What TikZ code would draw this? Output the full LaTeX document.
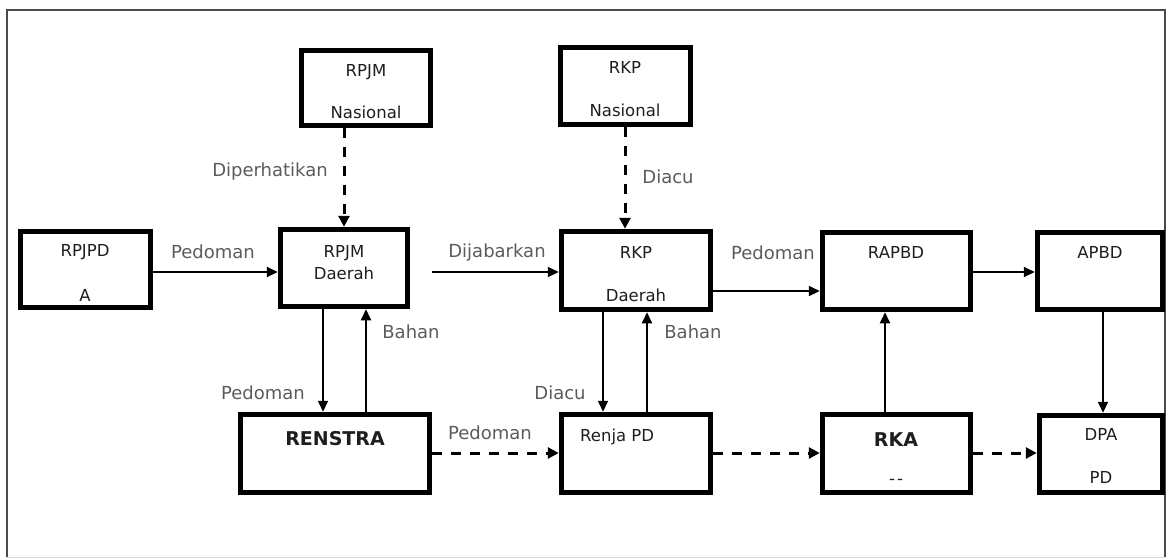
\documentclass[tikz,border=0pt]{standalone}
\usepackage{fontspec}
\setmainfont{DejaVu Sans}
\usetikzlibrary{arrows.meta}
\definecolor{lblc}{HTML}{5C5C5C}
\definecolor{txtc}{HTML}{1E1E1E}
\definecolor{framec}{HTML}{4A4A4A}
\begin{document}
\begin{tikzpicture}[x=1pt,y=-1pt,
  box/.style={draw=black, line width=5.5pt, inner sep=0pt, fill=white},
  btxt/.style={text=txtc, inner sep=0pt, font=\fontsize{16.5pt}{18pt}\selectfont},
  bbold/.style={text=txtc, inner sep=0pt, font=\fontsize{19pt}{21pt}\selectfont\bfseries},
  lbl/.style={text=lblc, inner sep=0pt, font=\fontsize{18pt}{20pt}\selectfont},
  sol/.style={draw=black, line width=2pt, -{Triangle[length=11pt,width=10pt]}},
  dsh/.style={draw=black, line width=3pt, dash pattern=on 10pt off 9pt, -{Triangle[length=11pt,width=11pt]}}]
\useasboundingbox (0,0) rectangle (1167,558);
\fill[white] (0,0) rectangle (1167,558);
% frame
\draw[framec, line width=2.5pt] (7,557) -- (7,10) -- (1165,10) -- (1165,557);
\draw[gray!30, line width=1pt] (7,557) -- (1165,557);
% boxes
\node[box, minimum width=129pt, minimum height=75pt] (rpjmn) at (366,88) {};
\node[box, minimum width=130pt, minimum height=77pt] (rkpn) at (625.5,86) {};
\node[box, minimum width=130pt, minimum height=76pt] (rpjpd) at (85.5,269.5) {};
\node[box, minimum width=127pt, minimum height=77pt] (rpjmd) at (344,268) {};
\node[box, minimum width=149pt, minimum height=78pt] (rkpd) at (636,270.5) {};
\node[box, minimum width=148pt, minimum height=77pt] (rapbd) at (896.5,271) {};
\node[box, minimum width=125pt, minimum height=77pt] (apbd) at (1100,271) {};
\node[box, minimum width=189pt, minimum height=78pt] (renstra) at (335,453.5) {};
\node[box, minimum width=149pt, minimum height=78pt] (renja) at (636,453.5) {};
\node[box, minimum width=148pt, minimum height=78pt] (rka) at (896.5,453.5) {};
\node[box, minimum width=123pt, minimum height=77pt] (dpa) at (1101,454) {};
% box texts
\node[btxt] (t1a) at (366,72) {RPJM};
\node[btxt] (t1b) at (366,112) {Nasional};
\node[btxt] (t2a) at (625,67) {RKP};
\node[btxt] (t2b) at (625,110) {Nasional};
\node[btxt] (t3a) at (85,252) {RPJPD};
\node[btxt] (t3b) at (85,295) {A};
\node[btxt] (t4a) at (344,253) {RPJM};
\node[btxt] (t4b) at (344,273) {Daerah};
\node[btxt] (t5a) at (636,252) {RKP};
\node[btxt] (t5b) at (636,295) {Daerah};
\node[btxt] (t6) at (896,252) {RAPBD};
\node[btxt] (t7) at (1100,252) {APBD};
\node[bbold] (t8) at (335,439) {RENSTRA};
\node[btxt, anchor=west] (t9) at (580,437) {Renja PD};
\node[bbold] (t10a) at (896,440) {RKA};
\node[btxt] (t10b) at (896,482) {-\kern2pt-};
\node[btxt] (t11a) at (1101,434) {DPA};
\node[btxt] (t11b) at (1101,477) {PD};
% connectors
\draw[sol] (rpjpd.east |- 0,272) -- (rpjmd.west |- 0,272);
\node[lbl] (l1) at (213,252) {Pedoman};
\draw[dsh] (rpjmn.south -| 344,0) -- (rpjmd.north -| 344,0);
\node[lbl] (l2) at (270,172) {Diperhatikan};
\draw[dsh] (rkpn.south -| 625,0) -- (rkpd.north -| 625,0);
\node[lbl] (l3) at (668,177) {Diacu};
\coordinate (djs) at (432,272);
\draw[sol] (djs) -- (rkpd.west |- djs);
\node[lbl] (l4) at (497,253) {Dijabarkan};
\draw[sol] (rkpd.east |- 0,291) -- (rapbd.west |- 0,291);
\node[lbl] (l5) at (773,253) {Pedoman};
\draw[sol] (rapbd.east |- 0,272) -- (apbd.west |- 0,272);
\draw[sol] (rpjmd.south -| 323,0) -- (renstra.north -| 323,0);
\node[lbl] (l6) at (263,393) {Pedoman};
\draw[sol] (renstra.north -| 366,0) -- (rpjmd.south -| 366,0);
\node[lbl] (l7) at (411,332) {Bahan};
\draw[sol] (rkpd.south -| 603,0) -- (renja.north -| 603,0);
\node[lbl] (l8) at (560,393) {Diacu};
\draw[sol] (renja.north -| 647,0) -- (rkpd.south -| 647,0);
\node[lbl] (l9) at (693,332) {Bahan};
\draw[sol] (rka.north -| 885,0) -- (rapbd.south -| 885,0);
\draw[sol] (apbd.south -| 1103,0) -- (dpa.north -| 1103,0);
\draw[dsh] (renstra.east |- 0,453) -- (renja.west |- 0,453);
\node[lbl] (l10) at (490,433) {Pedoman};
\draw[dsh] (renja.east |- 0,453) -- (rka.west |- 0,453);
\draw[dsh] (rka.east |- 0,453) -- (dpa.west |- 0,453);
\end{tikzpicture}
\end{document}
